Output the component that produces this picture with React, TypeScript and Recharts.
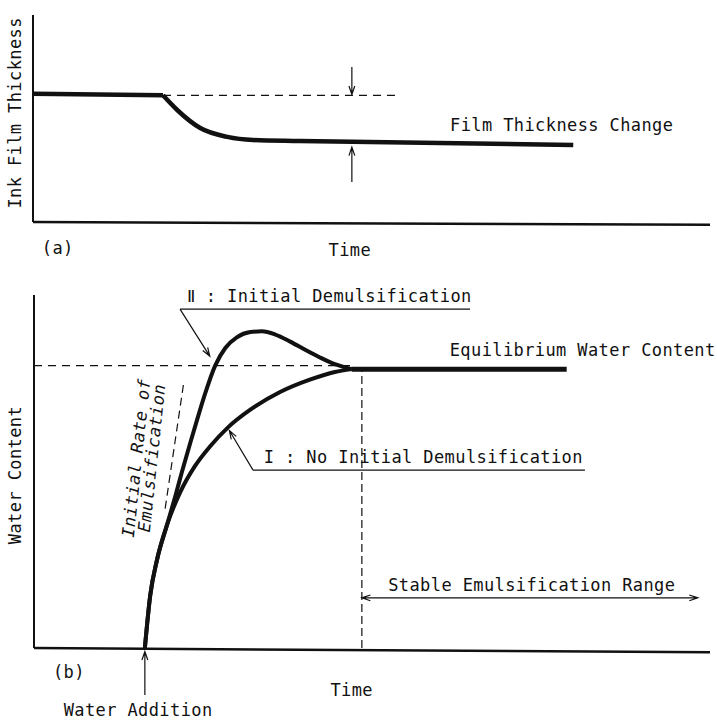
import React from 'react';
import { LineChart, Line, XAxis, YAxis, ReferenceLine, ReferenceDot } from 'recharts';

const FONT = '"DejaVu Sans Mono", "Liberation Mono", monospace';
const INK = '#111';

// (a) ink film thickness over time (arbitrary units 0-100)
const filmFlatTime = [0, 19.2];
const filmFlatThickness = [62, 61.2];
const filmDropTime = [19.2, 21.3, 24.7, 28.7, 32.5, 39.4, 79.8];
const filmDropThickness = [61.2, 54.1, 45.4, 41.1, 39.6, 39.1, 37.2];

// (b) water content over time
const noDemulsTime = [16.4, 17.2, 18.2, 19.7, 21.6, 23.8, 26, 28.7, 32, 36.4, 40.8, 44.5, 47];
const noDemulsWater = [0, 15, 25, 35, 44, 51.5, 57, 62.5, 67.5, 72.5, 76, 78.2, 79];
const demulsTime = [16.4, 17.2, 18.2, 19.7, 20.9, 21.9, 23.1, 24.1, 25.3, 26.8, 28.3, 30, 32, 33.7, 35.7, 37.9, 40.1, 42.3, 44.5, 47];
const demulsWater = [0, 15, 25, 35, 43, 50, 58, 64.5, 72, 80, 85, 88, 89.5, 89.7, 88.8, 86.8, 84.5, 82.3, 80.4, 79];
const equilibriumTime = [47, 78.8];
const equilibriumWater = [79, 79];

const pts = (ts: number[], ws: number[]) => ts.map((t, i) => ({ t, w: ws[i] }));

// line with open V arrow heads
const arrow = (both = false) => (p: any) => {
  const { x1, y1, x2, y2 } = p;
  const a = Math.atan2(y2 - y1, x2 - x1);
  const head = (x: number, y: number, ang: number) => {
    const L = 9;
    const s = 0.33;
    return `M${x - L * Math.cos(ang - s)},${y - L * Math.sin(ang - s)} L${x},${y} L${x - L * Math.cos(ang + s)},${y - L * Math.sin(ang + s)}`;
  };
  let d = `M${x1},${y1} L${x2},${y2} ` + head(x2, y2, a);
  if (both) d += ' ' + head(x1, y1, a + Math.PI);
  return <path d={d} fill="none" stroke={INK} strokeWidth={1.2} />;
};

type NoteOpts = { anchor?: 'start' | 'middle' | 'end'; rotate?: number; italic?: boolean; spacing?: number };

const note = (x: number, y: number, label: string, o: NoteOpts = {}) => (
  <ReferenceDot
    key={label + x}
    x={x}
    y={y}
    ifOverflow="visible"
    shape={(p: any) => (
      <text
        x={p.cx}
        y={p.cy}
        fill={INK}
        fontFamily={FONT}
        fontSize={17}
        letterSpacing={o.spacing ?? 0.4}
        dominantBaseline="central"
        textAnchor={o.anchor ?? 'start'}
        fontStyle={o.italic ? 'italic' : 'normal'}
        transform={o.rotate ? `rotate(${o.rotate}, ${p.cx}, ${p.cy})` : undefined}
      >
        {label}
      </text>
    )}
  />
);

const seg = (x1: number, y1: number, x2: number, y2: number, opts: any = {}) => (
  <ReferenceLine
    key={`${x1}-${y1}-${x2}-${y2}`}
    segment={[{ x: x1, y: y1 }, { x: x2, y: y2 }]}
    ifOverflow="visible"
    stroke={INK}
    strokeWidth={1.2}
    {...opts}
  />
);

const axisProps = {
  hide: true,
  type: 'number' as const,
  domain: [0, 100],
  allowDataOverflow: true,
};

export default function App() {
  return (
    <div style={{ position: 'absolute', left: 0, top: 0, width: 717, height: 721, background: '#fff' }}>
      <div style={{ position: 'absolute', left: 0, top: 0 }}>
        <LineChart width={717} height={265} margin={{ top: 15, right: 7, bottom: 43, left: 33 }}>
          <XAxis dataKey="t" {...axisProps} />
          <YAxis {...axisProps} />
          {/* axes */}
          {seg(0, 0, 100, -1.3, { strokeWidth: 2.5 })}
          {seg(0, 0, 0, 100, { strokeWidth: 2 })}
          <Line data={pts(filmFlatTime, filmFlatThickness)} dataKey="w" type="linear" stroke={INK} strokeWidth={4.5} dot={false} activeDot={false} isAnimationActive={false} />
          <Line data={pts(filmDropTime, filmDropThickness)} dataKey="w" type="monotone" stroke={INK} strokeWidth={4.5} dot={false} activeDot={false} isAnimationActive={false} />
          {seg(19.2, 61.2, 53.8, 61.2, { strokeDasharray: '8 6' })}
          {seg(47.1, 74.9, 47.1, 61.6, { shape: arrow() })}
          {seg(47.1, 19.3, 47.1, 36.2, { shape: arrow() })}
          {note(61.6, 46.9, 'Film Thickness Change')}
          {note(1.3, -12.6, '(a)')}
          {note(46.8, -13.5, 'Time', { anchor: 'middle' })}
          {note(-2.66, 52.7, 'Ink Film Thickness', { anchor: 'middle', rotate: -90 })}
        </LineChart>
      </div>
      <div style={{ position: 'absolute', left: 0, top: 265 }}>
        <LineChart width={717} height={456} margin={{ top: 30, right: 7, bottom: 73, left: 34 }}>
          <XAxis dataKey="t" {...axisProps} />
          <YAxis {...axisProps} />
          {/* axes */}
          {seg(0, 0, 100, -1.2, { strokeWidth: 2.5 })}
          {seg(0, 0, 0, 100, { strokeWidth: 2 })}
          {seg(0, 80, 47, 80, { strokeDasharray: '8 6' })}
          {seg(48.5, 0, 48.5, 79, { strokeDasharray: '8 4' })}
          {seg(19.4, 39.5, 22.1, 74.5, { strokeDasharray: '8 5' })}
          <Line data={pts(noDemulsTime, noDemulsWater)} dataKey="w" type="monotone" stroke={INK} strokeWidth={4} dot={false} activeDot={false} isAnimationActive={false} />
          <Line data={pts(demulsTime, demulsWater)} dataKey="w" type="monotone" stroke={INK} strokeWidth={4} dot={false} activeDot={false} isAnimationActive={false} />
          <Line data={pts(equilibriumTime, equilibriumWater)} dataKey="w" type="linear" stroke={INK} strokeWidth={5} dot={false} activeDot={false} isAnimationActive={false} />
          {/* II leader */}
          {seg(21.6, 96, 64.5, 96)}
          {seg(21.6, 96, 26, 82.7, { shape: arrow() })}
          {note(22.6, 99.6, 'Ⅱ : Initial Demulsification')}
          {/* I leader */}
          {seg(32.4, 50.4, 81.5, 50.4)}
          {seg(32.4, 50.4, 28.9, 61.6, { shape: arrow() })}
          {note(34, 54, 'I : No Initial Demulsification')}
          {note(61.5, 84.4, 'Equilibrium Water Content')}
          {seg(48.5, 14.2, 98.2, 14.2, { shape: arrow(true) })}
          {note(52.4, 17.8, 'Stable Emulsification Range')}
          {note(15.1, 53.8, 'Initial Rate of', { anchor: 'middle', rotate: -84, italic: true })}
          {note(17.4, 53.8, 'Emulsification', { anchor: 'middle', rotate: -84, italic: true })}
          {seg(16.4, -13.3, 16.4, -1, { shape: arrow() })}
          {note(15.4, -17.6, 'Water Addition', { anchor: 'middle' })}
          {note(2.8, -6.8, '(b)')}
          {note(47, -12, 'Time', { anchor: 'middle' })}
          {note(-2.8, 49, 'Water Content', { anchor: 'middle', rotate: -90 })}
        </LineChart>
      </div>
    </div>
  );
}
